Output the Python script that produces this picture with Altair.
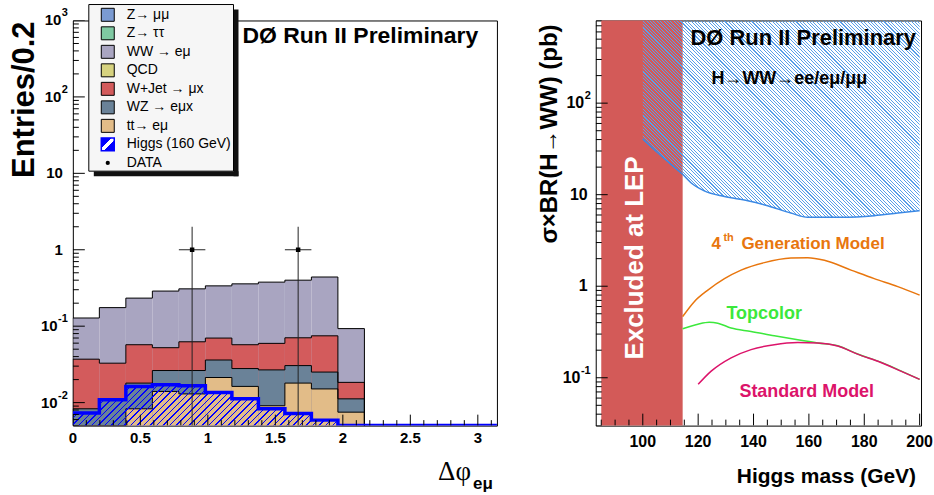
import math
import pandas as pd
import altair as alt

FONT = "Liberation Sans"

# ---------------- left panel: delta-phi distribution ----------------
N_BINS = 16
BIN_W = math.pi / N_BINS
bin_edges = [i * BIN_W for i in range(N_BINS + 1)]

ww_top   = [0.128, 0.175, 0.233, 0.288, 0.308, 0.337, 0.358, 0.377, 0.400, 0.440, 0.093]
wjet_top = [0.0370, 0.0328, 0.0572, 0.0523, 0.0625, 0.0699, 0.0572, 0.0596, 0.0705, 0.0748, 0.0184]
wz_top   = [0.0083, 0.0112, 0.0180, 0.0263, 0.0263, 0.0361, 0.0279, 0.0268, 0.0305, 0.0251, 0.0112]
tt_top   = [0.0, 0.0, 0.0083, 0.0140, 0.0130, 0.0213, 0.0163, 0.0091, 0.0180, 0.0151, 0.0075]
higgs    = [0.0073, 0.0109, 0.0163, 0.0171, 0.0166, 0.0136, 0.0112, 0.0083, 0.0072, 0.0059,
            0.0, 0.0, 0.0, 0.0, 0.0, 0.0]
data_bins = [4, 8]
data_counts = [1.0, 1.0]
data_upper = [2.0, 2.0]

proc_names = ["Z→ μμ", "Z→ ττ", "WW → eμ", "QCD", "W+Jet → μx", "WZ → eμx", "tt→ eμ",
              "Higgs (160 GeV)", "DATA"]
proc_colors = ["#7b9bd2", "#7fc9a2", "#a9a5c1", "#d6d27f", "#d35b5c", "#6a8298", "#e2bc88",
               "#0000ff", "#000000"]

left_x_major = [0, 0.5, 1, 1.5, 2, 2.5, 3]
left_x_labels = ["0", "0.5", "1", "1.5", "2", "2.5", "3"]
left_x_minor = [0.1, 0.2, 0.3, 0.4, 0.6, 0.7, 0.8, 0.9, 1.1, 1.2, 1.3, 1.4, 1.6, 1.7, 1.8, 1.9,
                2.1, 2.2, 2.3, 2.4, 2.6, 2.7, 2.8, 2.9, 3.1]
left_y_major = [0.01, 0.1, 1, 10, 100, 1000]
left_y_base = ["10", "10", "1", "10", "10", "10"]
left_y_exp = ["-2", "-1", "", "", "2", "3"]
left_y_minor = [m * 10.0 ** e for e in range(-3, 3) for m in range(2, 10)]

# ---------------- right panel: cross-section limit ----------------
lep_band = [85.0, 114.4]
lim_mass = [100, 105.4, 110.2, 114.4, 117.4, 122.2, 129.5, 137.9, 145.1, 153.5, 159.6, 171.6, 183.6, 192.1, 200]
lim_val  = [40.7, 28.7, 21.4, 16.7, 13.5, 11.0, 9.55, 8.6, 7.58, 6.3, 5.66, 5.66, 5.9, 6.3, 6.68]
gen4_mass = [114.4, 118.6, 123.5, 129.5, 135.5, 143.9, 153.5, 159.6, 165.6, 175.2, 183.6, 192.1, 200]
gen4_val  = [0.466, 0.678, 0.907, 1.21, 1.50, 1.81, 2.03, 2.05, 1.92, 1.50, 1.21, 0.99, 0.80]
top_mass = [114.4, 119.9, 124.0, 127.1, 131.9, 139.1, 147.5, 156.0, 163.2, 170.4, 177.6, 186.0, 193.2, 200]
top_val  = [0.343, 0.385, 0.404, 0.395, 0.349, 0.321, 0.288, 0.260, 0.240, 0.224, 0.182, 0.148, 0.119, 0.096]
sm_mass = [120, 124.7, 131.9, 139.1, 147.5, 156.0, 163.2, 170.4, 177.6, 186.0, 193.2, 200]
sm_val  = [0.0847, 0.118, 0.165, 0.203, 0.230, 0.242, 0.239, 0.222, 0.181, 0.147, 0.118, 0.096]

right_x_major = [100, 120, 140, 160, 180, 200]
right_x_labels = ["100", "120", "140", "160", "180", "200"]
right_x_minor = [85, 90, 95, 105, 110, 115, 125, 130, 135, 145, 150, 155, 165, 170, 175, 185, 190, 195]
right_y_major = [0.1, 1, 10, 100]
right_y_base = ["10", "1", "10", "10"]
right_y_exp = ["-1", "", "", "2"]
right_y_minor = [m * 10.0 ** e for e in range(-2, 3) for m in range(2, 10)]

# ---------------- geometry ----------------
LW, LH = 425, 406
RW, RH = 326, 406
L_YMIN, L_YMAX = 0.005, 1000.0
R_XMIN, R_XMAX = 83.0, 200.5
R_YMIN, R_YMAX = 0.03, 800.0

one = pd.DataFrame({"k": [0]})


def stripes(color, w, h, period, line, direction):
    r = h / w
    s = (1 + r) / (1 + r * r)
    if direction == "/":
        x1, y1, x2, y2 = 0, 0, s, s * r
    else:
        x1, y1, x2, y2 = 0, 1, s, 1 - s * r
    n = max(1, int(round((w + h) / period)))
    f = line / period
    stops = []
    for i in range(n):
        a = round(i / n, 5)
        b = round((i + f) / n, 5)
        stops += [{"offset": a, "color": "transparent"}, {"offset": a, "color": color},
                  {"offset": b, "color": color}, {"offset": b, "color": "transparent"}]
    stops.append({"offset": 1, "color": "transparent"})
    return {"gradient": "linear", "x1": x1, "y1": y1, "x2": x2, "y2": y2, "stops": stops}


def text(t, x, y, size, color="black", weight="bold", angle=0, align="left",
         baseline="alphabetic", font=FONT):
    return alt.Chart(one).mark_text(text=t, fontSize=size, fontWeight=weight, color=color,
                                    angle=angle, align=align, baseline=baseline,
                                    font=font).encode(x=alt.value(x), y=alt.value(y))


def ticks_y(values, scale, length):
    df = pd.DataFrame({"v": values})
    return alt.Chart(df).mark_rule(color="black", strokeWidth=1, clip=True).encode(
        y=alt.Y("v:Q", scale=scale, axis=None), x=alt.value(0), x2=alt.value(length))


def ticks_x(values, scale, length, height):
    df = pd.DataFrame({"v": values})
    return alt.Chart(df).mark_rule(color="black", strokeWidth=1, clip=True).encode(
        x=alt.X("v:Q", scale=scale, axis=None), y=alt.value(height), y2=alt.value(height - length))


def labels_x(values, labels, scale, ypos, size):
    df = pd.DataFrame({"v": values, "t": labels})
    return alt.Chart(df).mark_text(font=FONT, fontWeight="bold", fontSize=size, color="black",
                                   baseline="top", align="center").encode(
        x=alt.X("v:Q", scale=scale, axis=None), y=alt.value(ypos), text="t:N")


def exp_width(e, size):
    return sum(0.333 * size if c == "-" else 0.556 * size for c in e)


def labels_log(values, bases, exps, scale, e_x, plain_x, size, esize):
    """Decade labels drawn as base '10' plus a raised exponent, right aligned at e_x."""
    out = []
    df = pd.DataFrame({"v": values, "b": bases, "e": exps})
    plain = df[df["e"] == ""]
    out.append(alt.Chart(plain).mark_text(font=FONT, fontWeight="bold", fontSize=size,
                                          color="black", baseline="middle", align="right").encode(
        y=alt.Y("v:Q", scale=scale, axis=None), x=alt.value(plain_x), text="b:N"))
    ex = df[df["e"] != ""].copy()
    out.append(alt.Chart(ex).mark_text(font=FONT, fontWeight="bold", fontSize=esize, color="black",
                                       baseline="middle", align="right", dy=-7).encode(
        y=alt.Y("v:Q", scale=scale, axis=None), x=alt.value(e_x), text="e:N"))
    ex["w"] = [round(exp_width(e, esize), 1) for e in ex["e"]]
    for w, grp in ex.groupby("w"):
        out.append(alt.Chart(grp[["v", "b"]]).mark_text(
            font=FONT, fontWeight="bold", fontSize=size, color="black", baseline="middle",
            align="right").encode(y=alt.Y("v:Q", scale=scale, axis=None),
                                  x=alt.value(e_x - w - 0.5), text="b:N"))
    return out


# ================= LEFT CHART =================
xs_l = alt.Scale(domain=[0, math.pi], nice=False, zero=False)
ys_l = alt.Scale(type="log", domain=[L_YMIN, L_YMAX], nice=False)
color_scale = alt.Scale(domain=proc_names, range=proc_colors)

stack = [("WW → eμ", ww_top), ("W+Jet → μx", wjet_top), ("WZ → eμx", wz_top), ("tt→ eμ", tt_top)]
rect_rows, line_rows = [], []
for name, tops in stack:
    for i, v in enumerate(tops):
        if v > L_YMIN:
            rect_rows.append({"proc": name, "x0": bin_edges[i], "x1": bin_edges[i + 1],
                              "lo": L_YMIN, "hi": v})
    pts = [(0.0, L_YMIN)]
    for i, v in enumerate(tops):
        pts.append((bin_edges[i], max(v, L_YMIN)))
    pts.append((bin_edges[len(tops)], max(tops[-1], L_YMIN)))
    pts.append((bin_edges[len(tops)], L_YMIN))
    for k, (x, y) in enumerate(pts):
        line_rows.append({"proc": name, "k": k, "x": x, "y": y})
rect_df = pd.DataFrame(rect_rows)
outline_df = pd.DataFrame(line_rows)

rects = alt.Chart(rect_df).mark_rect(strokeWidth=0, clip=True).encode(
    x=alt.X("x0:Q", scale=xs_l, axis=None), x2="x1:Q",
    y=alt.Y("hi:Q", scale=ys_l, axis=None), y2="lo:Q",
    color=alt.Color("proc:N", scale=color_scale, legend=None),
)

outlines = alt.Chart(outline_df).mark_line(interpolate="step-after", color="black", strokeWidth=1,
                                           clip=True).encode(
    x=alt.X("x:Q", scale=xs_l, axis=None), y=alt.Y("y:Q", scale=ys_l, axis=None),
    detail="proc:N", order="k:Q")

n_h = sum(1 for v in higgs if v > L_YMIN)
h_area = pd.DataFrame({"x": bin_edges[:n_h + 1],
                       "y": higgs[:n_h] + [higgs[n_h - 1]],
                       "lo": [L_YMIN] * (n_h + 1)})
dec = math.log10(L_YMAX) - math.log10(L_YMIN)
hw = bin_edges[n_h] / math.pi * LW
hh = LH * (math.log10(max(higgs)) - math.log10(L_YMIN)) / dec
higgs_hatch = alt.Chart(h_area).mark_area(
    interpolate="step-after", clip=True, fill=stripes("#0000ff", hw, hh, 6.5, 1.4, "/")).encode(
    x=alt.X("x:Q", scale=xs_l, axis=None), y=alt.Y("y:Q", scale=ys_l, axis=None), y2="lo:Q")

h_line = pd.DataFrame({"x": bin_edges,
                       "y": [max(v, L_YMIN) for v in higgs] + [max(higgs[-1], L_YMIN)],
                       "k": list(range(N_BINS + 1))})
higgs_line = alt.Chart(h_line).mark_line(interpolate="step-after", color="#0000ff", strokeWidth=3.5,
                                         clip=True).encode(
    x=alt.X("x:Q", scale=xs_l, axis=None), y=alt.Y("y:Q", scale=ys_l, axis=None), order="k:Q")

data_df = pd.DataFrame({
    "xc": [bin_edges[b] + BIN_W / 2 for b in data_bins],
    "xl": [bin_edges[b] for b in data_bins],
    "xr": [bin_edges[b + 1] for b in data_bins],
    "y": data_counts, "hi": data_upper, "lo": [L_YMIN] * len(data_bins)})
err_v = alt.Chart(data_df).mark_rule(color="#222", strokeWidth=1, clip=True).encode(
    x=alt.X("xc:Q", scale=xs_l, axis=None), y=alt.Y("hi:Q", scale=ys_l, axis=None), y2="lo:Q")
err_h = alt.Chart(data_df).mark_rule(color="#222", strokeWidth=1, clip=True).encode(
    x=alt.X("xl:Q", scale=xs_l, axis=None), x2="xr:Q", y=alt.Y("y:Q", scale=ys_l, axis=None))
dots = alt.Chart(data_df).mark_square(color="black", size=20, opacity=1, clip=True).encode(
    x=alt.X("xc:Q", scale=xs_l, axis=None), y=alt.Y("y:Q", scale=ys_l, axis=None))

# ---- legend (drawn from the legend arrays) ----
leg_scale = alt.Scale(type="point", domain=proc_names, range=[-5.7, 142.7], padding=0)
shadow_r = alt.Chart(one).mark_rect(color="#111").encode(
    x=alt.value(161), x2=alt.value(166), y=alt.value(-11), y2=alt.value(156))
shadow_b = alt.Chart(one).mark_rect(color="#111").encode(
    x=alt.value(21), x2=alt.value(166), y=alt.value(151), y2=alt.value(156))
leg_box = alt.Chart(one).mark_rect(fill="#f6f6f6", stroke="black", strokeWidth=1).encode(
    x=alt.value(16), x2=alt.value(161), y=alt.value(-16), y2=alt.value(151))
sq_df = pd.DataFrame({"proc": proc_names[:7], "col": proc_colors[:7]})
leg_squares = alt.Chart(sq_df).mark_square(size=169, stroke="black", strokeWidth=1, opacity=1).encode(
    x=alt.value(35), y=alt.Y("proc:N", scale=leg_scale, axis=None),
    fill=alt.Fill("col:N", scale=None))
higgs_sym_fill = {"gradient": "linear", "x1": 0, "y1": 0, "x2": 1, "y2": 1,
                  "stops": [{"offset": 0, "color": "#0000ff"}, {"offset": 0.4, "color": "#0000ff"},
                            {"offset": 0.4, "color": "white"}, {"offset": 0.6, "color": "white"},
                            {"offset": 0.6, "color": "#0000ff"}, {"offset": 1, "color": "#0000ff"}]}
leg_higgs = alt.Chart(pd.DataFrame({"proc": [proc_names[7]]})).mark_square(
    size=169, stroke="#0000ff", strokeWidth=1.5, fill=higgs_sym_fill, opacity=1).encode(
    x=alt.value(35), y=alt.Y("proc:N", scale=leg_scale, axis=None))
leg_data = alt.Chart(pd.DataFrame({"proc": [proc_names[8]]})).mark_circle(
    size=18, color="black", opacity=1).encode(
    x=alt.value(35), y=alt.Y("proc:N", scale=leg_scale, axis=None))
leg_labels = alt.Chart(pd.DataFrame({"proc": proc_names})).mark_text(
    font=FONT, fontSize=14, color="black", align="left", baseline="middle").encode(
    x=alt.value(54), y=alt.Y("proc:N", scale=leg_scale, axis=None), text="proc:N")

left = alt.layer(
    rects, outlines, higgs_hatch, higgs_line, err_v, err_h, dots,
    ticks_y(left_y_major, ys_l, 12), ticks_y(left_y_minor, ys_l, 6),
    ticks_x(left_x_major, xs_l, 11, LH), ticks_x(left_x_minor, xs_l, 5.5, LH),
    labels_x(left_x_major, left_x_labels, xs_l, LH + 5, 15),
    *labels_log(left_y_major, left_y_base, left_y_exp, ys_l, -5, -10, 15, 11),
    text("DØ Run II Preliminary", 170, 23, 23),
    text("Entries/0.2", -39, 1, 31, angle=270, align="right"),
    text("Δφ", 399, 460, 27, weight="normal", align="right", font="Liberation Serif"),
    text("eμ", 401, 470, 17),
    shadow_r, shadow_b, leg_box, leg_squares, leg_higgs, leg_data, leg_labels,
).resolve_scale(y="independent").properties(width=LW, height=LH)

# ================= RIGHT CHART =================
xs_r = alt.Scale(domain=[R_XMIN, R_XMAX], nice=False, zero=False)
ys_r = alt.Scale(type="log", domain=[R_YMIN, R_YMAX], nice=False)

lep_df = pd.DataFrame({"x0": [lep_band[0]], "x1": [lep_band[1]], "lo": [R_YMIN], "hi": [R_YMAX]})
lep = alt.Chart(lep_df).mark_rect(color="#d35a58", strokeWidth=0).encode(
    x=alt.X("x0:Q", scale=xs_r, axis=None), x2="x1:Q",
    y=alt.Y("hi:Q", scale=ys_r, axis=None), y2="lo:Q")

rdec = math.log10(R_YMAX) - math.log10(R_YMIN)
lim_df = pd.DataFrame({"m": lim_mass, "v": lim_val, "top": [R_YMAX] * len(lim_mass)})
aw = (max(lim_mass) - min(lim_mass)) / (R_XMAX - R_XMIN) * RW
ah = RH * (math.log10(R_YMAX) - math.log10(min(lim_val))) / rdec
hatch = alt.Chart(lim_df).mark_area(
    interpolate="monotone", clip=True, fill=stripes("#5a9fe8", aw, ah, 3.4, 1.1, "\\")).encode(
    x=alt.X("m:Q", scale=xs_r, axis=None), y=alt.Y("v:Q", scale=ys_r, axis=None), y2="top:Q")


def curve(mass, vals, color, width=1.5):
    df = pd.DataFrame({"m": mass, "v": vals})
    return alt.Chart(df).mark_line(interpolate="monotone", color=color, strokeWidth=width,
                                   clip=True).encode(
        x=alt.X("m:Q", scale=xs_r, axis=None), y=alt.Y("v:Q", scale=ys_r, axis=None))


spacer = alt.Chart(one).mark_rule(strokeOpacity=0, opacity=0).encode(
    x=alt.value(0), y=alt.value(-16), y2=alt.value(0))

right = alt.layer(
    lep, hatch,
    curve(lim_mass, lim_val, "#3a88e4"),
    curve(gen4_mass, gen4_val, "#e8760e"),
    curve(top_mass, top_val, "#3ce83c"),
    curve(sm_mass, sm_val, "#dc136a"),
    ticks_y(right_y_major, ys_r, 12), ticks_y(right_y_minor, ys_r, 6),
    ticks_x(right_x_major, xs_r, 12, RH), ticks_x(right_x_minor, xs_r, 6, RH),
    labels_x(right_x_major, right_x_labels, xs_r, RH + 8, 16),
    *labels_log(right_y_major, right_y_base, right_y_exp, ys_r, -5, -8, 16, 11),
    text("DØ Run II Preliminary", 95, 25, 22),
    text("H→WW→ee/eμ/μμ", 116, 64, 18),
    text("4", 116, 229, 17, color="#e8760e"),
    text("th", 128, 221, 11, color="#e8760e"),
    text("Generation Model", 146, 229, 17, color="#e8760e"),
    text("Topcolor", 131, 299, 18, color="#3ce83c"),
    text("Standard Model", 144, 377, 18, color="#dc136a"),
    text("Excluded at LEP", 47, 238, 26, color="white", angle=270, align="center"),
    text("σ×BR(H→WW) (pb)", -39, 4, 24, angle=270, align="right"),
    text("Higgs mass (GeV)", 321, 464, 21, align="right"),
    spacer,
).properties(width=RW, height=RH)

chart = alt.hconcat(left, right, spacing=39).resolve_scale(
    x="independent", y="independent"
).properties(
    padding={"left": 8, "top": 3, "right": 0, "bottom": 0}, background="white"
).configure_view(stroke="black", strokeWidth=1)

chart.save("out.html", embed_options={"renderer": "svg", "actions": False})
